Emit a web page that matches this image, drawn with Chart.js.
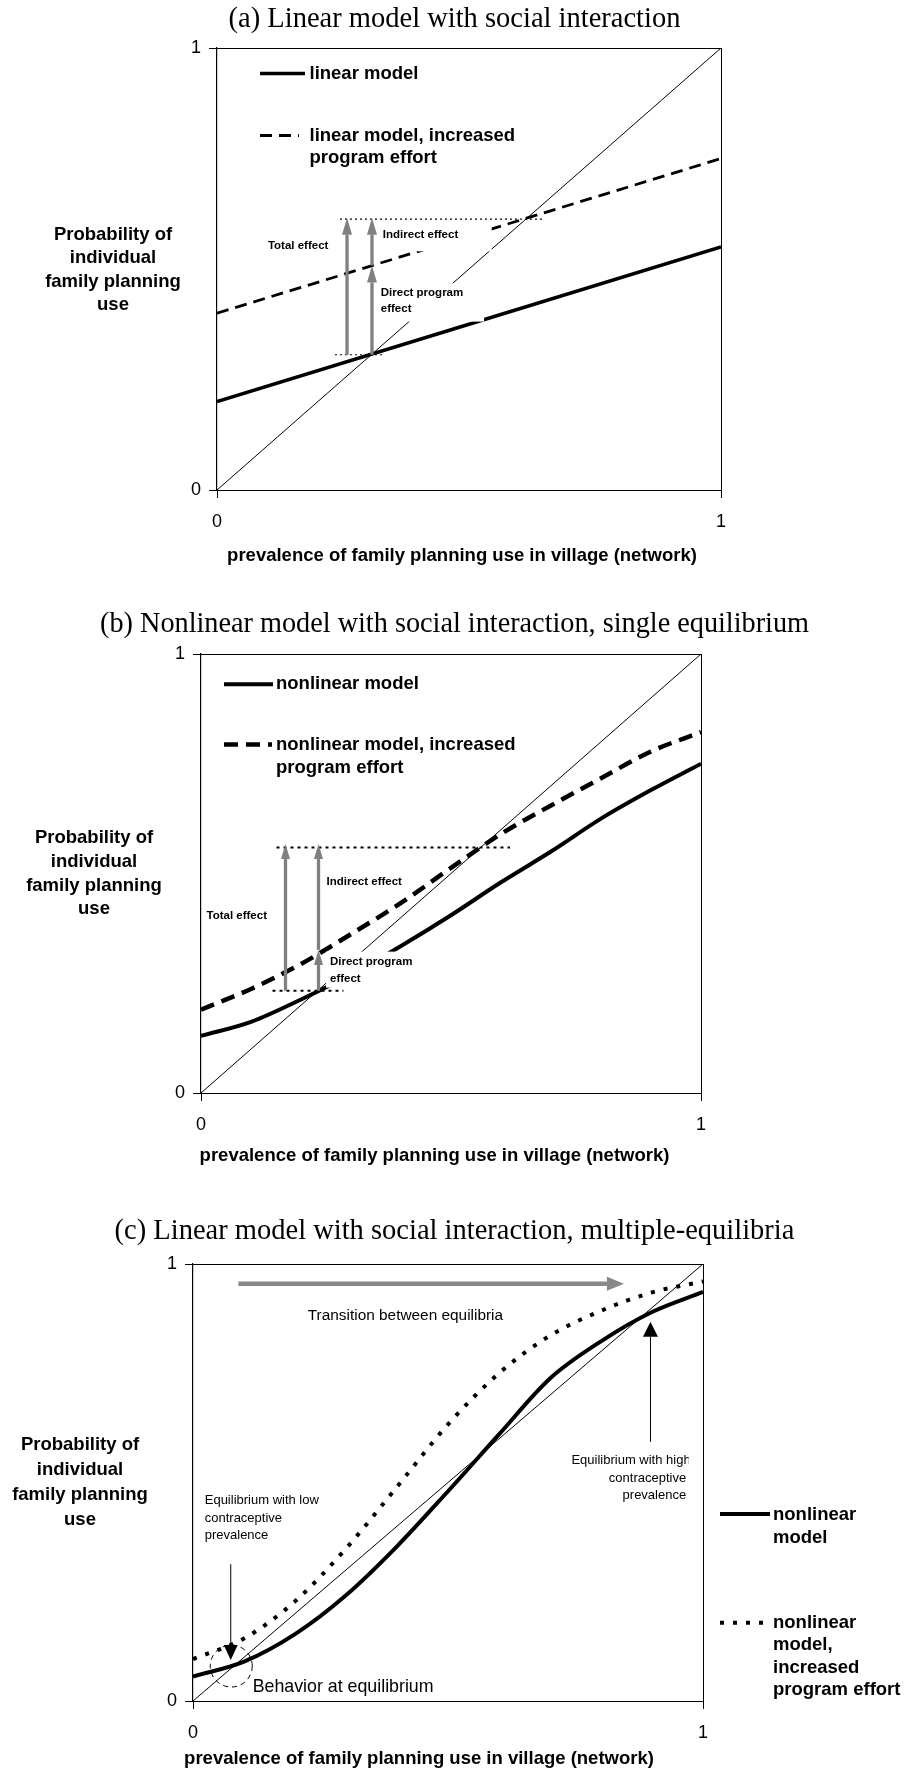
<!DOCTYPE html>
<html>
<head>
<meta charset="utf-8">
<title>Social interaction and family planning use</title>
<script src="https://cdn.jsdelivr.net/npm/chart.js@4.4.1/dist/chart.umd.min.js"></script>
<style>
  body { margin: 0; background: #fff; }
  #wrap { position: relative; width: 909px; height: 1773px; }
  canvas { position: absolute; left: 0; }
</style>
</head>
<body>
<div id="wrap">
  <canvas id="chartA" width="909" height="585" style="top:0px"></canvas>
  <canvas id="chartB" width="909" height="600" style="top:585px"></canvas>
  <canvas id="chartC" width="909" height="588" style="top:1185px"></canvas>
</div>
<script>
'use strict'

// (a) linear model
let xA = [0, 1]
let linearA = [0.2, 0.55]
let linearUpA = [0.4, 0.75]
let guideXA = [[0.234, 0.333], [0.244, 0.645]]
let guideYA = [0.306, 0.613]
let arrowXA = [0.258, 0.3075, 0.3075]
let arrowFromA = [0.306, 0.306, 0.508]
let arrowToA = [0.616, 0.508, 0.616]

// (b) nonlinear model, single equilibrium
let xB = [0, 0.1, 0.2, 0.3, 0.4, 0.5, 0.6, 0.7, 0.8, 0.9, 1]
let nonlinB = [0.13, 0.162, 0.213, 0.27, 0.335, 0.405, 0.48, 0.55, 0.625, 0.69, 0.75]
let nonlinUpB = [0.19, 0.237, 0.294, 0.362, 0.433, 0.513, 0.59, 0.655, 0.717, 0.778, 0.822]
let guideXB = [[0.143, 0.285], [0.151, 0.618]]
let guideYB = [0.233, 0.559]
let arrowXB = [0.169, 0.235, 0.235]
let arrowFromB = [0.233, 0.233, 0.326]
let arrowToB = [0.567, 0.326, 0.567]

// (c) nonlinear model, multiple equilibria
let xC = [0, 0.1, 0.2, 0.3, 0.4, 0.5, 0.6, 0.7, 0.8, 0.9, 1]
let nonlinC = [0.056, 0.09, 0.153, 0.242, 0.354, 0.48, 0.61, 0.738, 0.823, 0.89, 0.936]
let nonlinUpC = [0.096, 0.143, 0.228, 0.349, 0.49, 0.633, 0.75, 0.836, 0.893, 0.935, 0.96]
let transitionC = [0.089, 0.845, 0.955]   // from x, to x, at y
let eqLowC = [0.074, 0.313, 0.094]        // x, from y, to y
let eqHighC = [0.897, 0.593, 0.868]
let behaviourC = [0.075, 0.08]

let diagX = [0, 1]
let diagY = [0, 1]

let sans = '"Liberation Sans", Arial, sans-serif'
let serif = '"Liberation Serif", "Times New Roman", serif'
let big = 'bold 18.5px ' + sans
let small = 'bold 11.5px ' + sans

Chart.defaults.font.family = sans
Chart.defaults.color = '#000'

function pts(xs, ys) {
    return xs.map((x, i) => ({x: x, y: ys[i]}))
}

function guides(gx, gy, width, dash) {
    return gx.map((g, i) => ({
        data: [{x: g[0], y: gy[i]}, {x: g[1], y: gy[i]}],
        borderColor: '#000', borderWidth: width, borderDash: dash
    }))
}

function line(xs, ys, width, dash) {
    return {
        data: pts(xs, ys), borderColor: '#000', borderWidth: width,
        borderDash: dash, borderCapStyle: 'butt', cubicInterpolationMode: 'monotone'
    }
}

function scalesFor(leftW, rightW) {
    let tick = {display: true, drawOnChartArea: false, tickLength: 8, color: '#000'}
    return {
        x: {type: 'linear', min: 0, max: 1,
            ticks: {stepSize: 1, padding: 13, font: {size: 18}},
            grid: tick, border: {color: '#000', width: 1},
            afterFit: s => { s.height = 40 }},
        y: {type: 'linear', min: 0, max: 1,
            ticks: {stepSize: 1, padding: 8, font: {size: 18}},
            grid: tick, border: {color: '#000', width: 1.2},
            afterFit: s => { s.width = leftW }},
        x2: {type: 'linear', position: 'top', min: 0, max: 1,
            ticks: {display: false}, grid: {display: false},
            border: {color: '#000', width: 1},
            afterFit: s => { s.height = 0 }},
        y2: {type: 'linear', position: 'right', min: 0, max: 1,
            ticks: {display: false}, grid: {display: false},
            border: {color: '#000', width: 1},
            afterFit: s => { s.width = rightW }}
    }
}

function write(ctx, str, x, y, font, align) {
    ctx.font = font
    ctx.textAlign = align || 'left'
    ctx.textBaseline = 'middle'
    ctx.fillStyle = '#000'
    ctx.fillText(str, x, y)
}

function writeLines(ctx, arr, x, ys, font, align) {
    arr.forEach((s, i) => write(ctx, s, x, ys[i], font, align))
}

function whiteBox(ctx, x0, y0, x1, y1) {
    ctx.fillStyle = '#fff'
    ctx.fillRect(x0, y0, x1 - x0, y1 - y0)
}

function sample(ctx, x0, x1, y, width, dash) {
    ctx.save()
    ctx.strokeStyle = '#000'
    ctx.lineWidth = width
    ctx.setLineDash(dash)
    ctx.beginPath()
    ctx.moveTo(x0, y)
    ctx.lineTo(x1, y)
    ctx.stroke()
    ctx.restore()
}

function arrow(ctx, x0, y0, x1, y1, w, hl, hw, color) {
    let ang = Math.atan2(y1 - y0, x1 - x0)
    let bx = x1 - hl * Math.cos(ang)
    let by = y1 - hl * Math.sin(ang)
    ctx.save()
    ctx.strokeStyle = color
    ctx.fillStyle = color
    ctx.lineWidth = w
    ctx.beginPath()
    ctx.moveTo(x0, y0)
    ctx.lineTo(bx, by)
    ctx.stroke()
    ctx.beginPath()
    ctx.moveTo(x1, y1)
    ctx.lineTo(bx + hw / 2 * Math.sin(ang), by - hw / 2 * Math.cos(ang))
    ctx.lineTo(bx - hw / 2 * Math.sin(ang), by + hw / 2 * Math.cos(ang))
    ctx.closePath()
    ctx.fill()
    ctx.restore()
}

function overlay(drawFn) {
    return {
        id: 'overlay',
        afterDraw(chart) {
            let sx = chart.scales.x
            let sy = chart.scales.y
            let ctx = chart.ctx
            ctx.save()
            drawFn(ctx, v => sx.getPixelForValue(v), v => sy.getPixelForValue(v))
            ctx.restore()
        }
    }
}

let yTitle = ['Probability of', 'individual', 'family planning', 'use']
let xTitle = 'prevalence of family planning use in village (network)'

function drawA(ctx, X, Y) {
    whiteBox(ctx, X(0.32), Y(0.60), X(0.545), Y(0.54))
    whiteBox(ctx, X(0.32), Y(0.468), X(0.53), Y(0.381))
    arrowXA.forEach((x, i) => arrow(ctx, X(x), Y(arrowFromA[i]), X(x), Y(arrowToA[i]), 3.3, 17, 10, '#808080'))
    write(ctx, 'Total effect', X(0.101), Y(0.552), small)
    write(ctx, 'Indirect effect', X(0.329), Y(0.577), small)
    write(ctx, 'Direct program', X(0.325), Y(0.446), small)
    write(ctx, 'effect', X(0.325), Y(0.41), small)

    sample(ctx, 260, 305, 73.6, 3.5, [])
    write(ctx, 'linear model', 309.5, 73.6, big)
    sample(ctx, 260, 299, 135.5, 2.8, [12, 7])
    writeLines(ctx, ['linear model, increased', 'program effort'], 309.5, [135.5, 157.6], big)

    writeLines(ctx, yTitle, 113, [235, 258, 282, 305], big, 'center')
    write(ctx, xTitle, 462, 556, big, 'center')
}

function drawB(ctx, X, Y) {
    whiteBox(ctx, X(0.25), Y(0.322), X(0.43), Y(0.24))
    arrowXB.forEach((x, i) => arrow(ctx, X(x), Y(arrowFromB[i]), X(x), Y(arrowToB[i]), 3.3, 15, 9, '#808080'))
    write(ctx, 'Total effect', X(0.011), Y(0.403), small)
    write(ctx, 'Indirect effect', X(0.251), Y(0.481), small)
    write(ctx, 'Direct program', X(0.258), Y(0.298), small)
    write(ctx, 'effect', X(0.258), Y(0.26), small)

    sample(ctx, 224, 273, 99.2, 4, [])
    write(ctx, 'nonlinear model', 276, 99.2, big)
    sample(ctx, 224, 272, 159.6, 4.5, [14, 8])
    writeLines(ctx, ['nonlinear model, increased', 'program effort'], 276, [159.6, 183.3], big)

    writeLines(ctx, yTitle, 94, [252.8, 276.9, 300.6, 323.5], big, 'center')
    write(ctx, xTitle, 434.5, 571, big, 'center')
}

function drawC(ctx, X, Y) {
    arrow(ctx, X(transitionC[0]), Y(transitionC[2]), X(transitionC[1]), Y(transitionC[2]), 4.5, 17, 14, '#888888')
    arrow(ctx, X(eqLowC[0]), Y(eqLowC[1]), X(eqLowC[0]), Y(eqLowC[2]), 1, 15, 14, '#000')
    arrow(ctx, X(eqHighC[0]), Y(eqHighC[1]), X(eqHighC[0]), Y(eqHighC[2]), 1, 15, 15, '#000')

    ctx.save()
    ctx.strokeStyle = '#000'
    ctx.lineWidth = 1
    ctx.setLineDash([5, 4])
    ctx.beginPath()
    ctx.arc(X(behaviourC[0]), Y(behaviourC[1]), 21, 0, Math.PI * 2)
    ctx.stroke()
    ctx.restore()

    let note = '13px ' + sans
    write(ctx, 'Transition between equilibria', X(0.225), Y(0.882), '15.4px ' + sans)
    writeLines(ctx, ['Equilibrium with low', 'contraceptive', 'prevalence'], X(0.023), [Y(0.459), Y(0.418), Y(0.378)], note)
    ctx.save()
    ctx.beginPath()
    ctx.rect(X(0.5), Y(0.6), X(0.972) - X(0.5), Y(0.4) - Y(0.6))
    ctx.clip()
    write(ctx, 'Equilibrium with high', X(0.742), Y(0.551), note)
    ctx.restore()
    writeLines(ctx, ['contraceptive', 'prevalence'], X(0.967), [Y(0.51), Y(0.471)], note, 'right')
    write(ctx, 'Behavior at equilibrium', X(0.117), Y(0.031), '17.8px ' + sans)

    sample(ctx, 720, 770, 329, 4, [])
    writeLines(ctx, ['nonlinear', 'model'], 773, [330, 352.5], big)
    sample(ctx, 720, 770, 437.8, 4, [4, 9])
    writeLines(ctx, ['nonlinear', 'model,', 'increased', 'program effort'], 773, [437.8, 460.1, 482.8, 505.1], big)

    writeLines(ctx, yTitle, 80, [259.8, 284.9, 310.3, 334.9], big, 'center')
    write(ctx, xTitle, 419, 573.6, big, 'center')
}

function titleOf(text, top, bottom) {
    return {
        display: true, text: text, color: '#000',
        font: {family: serif, size: 28.5, weight: 'normal', lineHeight: 1.2},
        padding: {top: top, bottom: bottom}
    }
}

let common = {
    responsive: false,
    animation: false,
    devicePixelRatio: 1,
    elements: {point: {radius: 0}}
}

new Chart(document.getElementById('chartA'), {
    type: 'line',
    data: {
        datasets: [
            line(xA, linearA, 3.5, []),
            line(xA, linearUpA, 2.8, [12, 7]),
            line(diagX, diagY, 1, [])
        ].concat(guides(guideXA, guideYA, 1.2, [2, 3]))
    },
    options: Object.assign({}, common, {
        layout: {padding: {left: 100, right: 100, top: 0, bottom: 55}},
        scales: scalesFor(117, 88),
        plugins: {
            legend: {display: false}, tooltip: {enabled: false},
            title: titleOf('(a) Linear model with social interaction', 2.9, 10.9)
        }
    }),
    plugins: [overlay(drawA)]
})

new Chart(document.getElementById('chartB'), {
    type: 'line',
    data: {
        datasets: [
            line(xB, nonlinB, 4, []),
            line(xB, nonlinUpB, 4.5, [14, 8]),
            line(diagX, diagY, 1, [])
        ].concat(guides(guideXB, guideYB, 2, [3, 4]))
    },
    options: Object.assign({}, common, {
        layout: {padding: {left: 100, right: 100, top: 0, bottom: 52}},
        scales: scalesFor(101, 108),
        plugins: {
            legend: {display: false}, tooltip: {enabled: false},
            title: titleOf('(b) Nonlinear model with social interaction, single equilibrium', 22.9, 11.9)
        }
    }),
    plugins: [overlay(drawB)]
})

new Chart(document.getElementById('chartC'), {
    type: 'line',
    data: {
        datasets: [
            line(xC, nonlinC, 4, []),
            line(xC, nonlinUpC, 4, [4, 9]),
            line(diagX, diagY, 1, [])
        ]
    },
    options: Object.assign({}, common, {
        layout: {padding: {left: 100, right: 100, top: 0, bottom: 32}},
        scales: scalesFor(93, 106),
        plugins: {
            legend: {display: false}, tooltip: {enabled: false},
            title: titleOf('(c) Linear model with social interaction, multiple-equilibria', 29.5, 15.3)
        }
    }),
    plugins: [overlay(drawC)]
})
</script>
</body>
</html>
